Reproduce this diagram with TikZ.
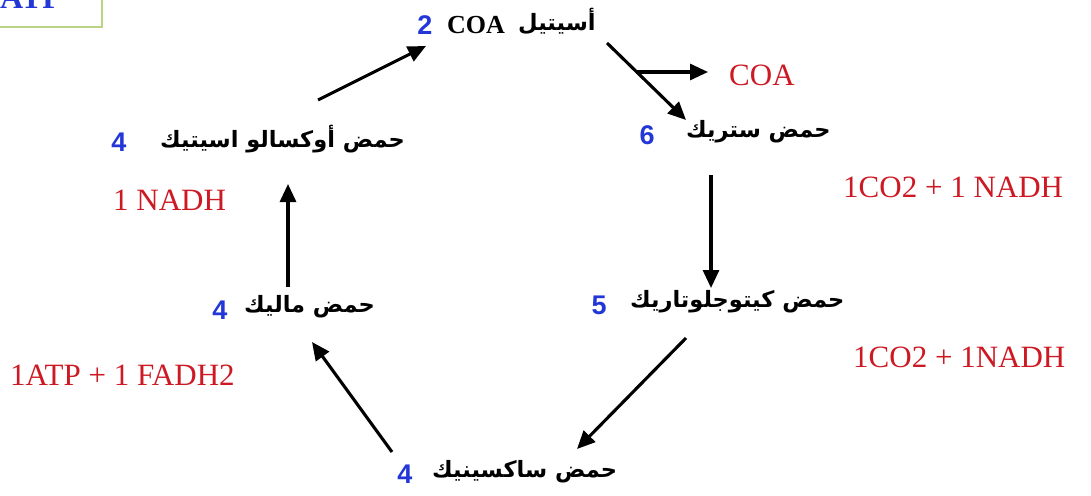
\documentclass[tikz,border=0pt]{standalone}
\usepackage{fontspec}
\setmainfont{Liberation Serif}
\newfontfamily\numfont{Liberation Sans}
\newfontfamily\arabicfont[Script=Arabic]{DejaVu Sans}
\TeXXeTstate=1
\usetikzlibrary{arrows.meta}
\definecolor{numblue}{RGB}{35,55,215}
\definecolor{prodred}{RGB}{205,25,35}
\definecolor{boxgreen}{RGB}{185,212,130}
\tikzset{
  num/.style={font=\numfont\bfseries\fontsize{27}{30}\selectfont, text=numblue, inner sep=0pt},
  comp/.style={font=\arabicfont\bfseries\fontsize{22.5}{26}\selectfont, inner sep=0pt},
  prod/.style={font=\fontsize{31}{34}\selectfont, text=prodred, inner sep=0pt},
  arr/.style={line width=3.1pt, -{Triangle[length=18pt,width=16pt]}},
}
\begin{document}
\begin{tikzpicture}[x=1pt,y=-1pt]
\useasboundingbox (0,0) rectangle (1091,495);
% partial box at top left
\begin{scope}
\clip (0,0) rectangle (104,30);
\draw[boxgreen, line width=1.2pt] (-20,-40) rectangle (102,27);
\node[font=\bfseries\fontsize{32}{34}\selectfont, text=numblue, anchor=base west, inner sep=0pt] (atp) at (0,9) {ATP};
\end{scope}
% acetyl CoA
\node[num] (n1) at (425,25) {2};
\node[font=\bfseries\fontsize{26}{28}\selectfont, inner sep=0pt, anchor=west] (coa1) at (447,25) {COA};
\node[comp, anchor=west] (acet) at (518,21) {\beginR أسيتيل\endR};
% citric
\node[num] (n2) at (647,135) {6};
\node[comp, anchor=west] (cit) at (686,132) {\beginR حمض ستريك\endR};
% released COA
\node[prod, anchor=west] (coa2) at (729,75) {COA};
% ketoglutaric
\node[num] (n3) at (599,305) {5};
\node[comp, anchor=west] (keto) at (630,302) {\beginR حمض كيتوجلوتاريك\endR};
% succinic
\node[num] (n4) at (405,474) {4};
\node[comp, anchor=west] (succ) at (432,472) {\beginR حمض ساكسينيك\endR};
% malic
\node[num] (n5) at (220,310) {4};
\node[comp, anchor=west] (mal) at (244,307) {\beginR حمض ماليك\endR};
% oxaloacetic
\node[num] (n6) at (119,142) {4};
\node[comp, anchor=west] (oxa) at (160,139) {\beginR حمض أوكسالو اسيتيك\endR};
% products
\node[prod, anchor=west] (p1) at (843,187) {1CO2 + 1 NADH};
\node[prod, anchor=west] (p2) at (853,357) {1CO2 + 1NADH};
\node[prod, anchor=west] (p3) at (10,375) {1ATP + 1 FADH2};
\node[prod, anchor=west] (p4) at (113,200) {1 NADH};
% arrow end coordinates
\coordinate (a1s) at (318,100);
\coordinate (a1e) at (426,46);
\coordinate (a2s) at (607,43);
\coordinate (a2e) at (686,120);
\coordinate (a2b) at (636,72);
\coordinate (a2c) at (708,72);
\coordinate (a3s) at (711,175);
\coordinate (a3e) at (711,288);
\coordinate (a4s) at (686,338);
\coordinate (a4e) at (577,449);
\coordinate (a5s) at (392,452);
\coordinate (a5e) at (312,342);
\coordinate (a6s) at (288,287);
\coordinate (a6e) at (288,184);
\draw[arr] (a1s) -- (a1e);
\draw[arr] (a2s) -- (a2e);
\draw[arr] (a2b) -- (a2c);
\draw[arr] (a3s) -- (a3e);
\draw[arr] (a4s) -- (a4e);
\draw[arr] (a5s) -- (a5e);
\draw[arr] (a6s) -- (a6e);
\end{tikzpicture}
\end{document}
